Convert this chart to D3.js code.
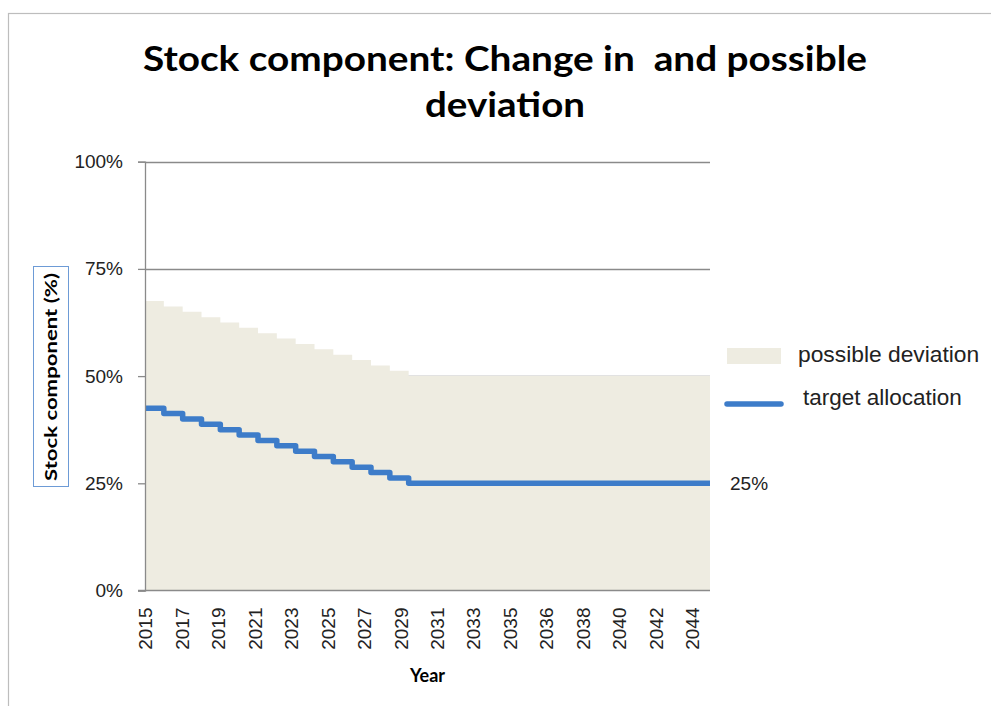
<!DOCTYPE html>
<html>
<head>
<meta charset="utf-8">
<script src="https://cdn.jsdelivr.net/npm/d3@7"></script>
<style>
  html, body { margin: 0; padding: 0; background: #ffffff; }
  svg { display: block; }
  text { white-space: pre; }
</style>
</head>
<body>
<svg id="chart" width="991" height="706"></svg>
<script>
// ---- data ----
const axisCategories = ["2015","2016","2017","2018","2019","2020","2021","2022","2023","2024",
  "2025","2026","2027","2028","2029","2030","2031","2032","2033","2034","2035","2035",
  "2036","2037","2038","2039","2040","2041","2042","2043","2044","2045"];
const dataYears = [2015,2016,2017,2018,2019,2020,2021,2022,2023,2024,2025,2026,2027,2028,2029,
  2030,2031,2032,2033,2034,2035,2036,2037,2038,2039,2040,2041,2042,2043,2044,2045];
const possibleDeviation = [67.5,66.25,65,63.75,62.5,61.25,60,58.75,57.5,56.25,55,53.75,52.5,51.25,50,
  50,50,50,50,50,50,50,50,50,50,50,50,50,50,50,50];
const targetAllocation = [42.5,41.25,40,38.75,37.5,36.25,35,33.75,32.5,31.25,30,28.75,27.5,26.25,25,
  25,25,25,25,25,25,25,25,25,25,25,25,25,25,25,25];
const yTicks = [0, 25, 50, 75, 100];
const titleLines = ["Stock component: Change in  and possible", "deviation"];
const yTitle = "Stock component (%)";
const xTitle = "Year";
const legendLabels = ["possible deviation", "target allocation"];
const endLabel = "25%";

// ---- layout ----
const plot = { left: 145, right: 710, top: 161.7, bottom: 590.5 };
const areaColor = "#EEECE1";
const lineColor = "#3D7CC9";
const gridColor = "#8a8a8a";
const numFont = "'Liberation Sans', Arial, sans-serif";
const boldFont = "Lato, 'Open Sans', sans-serif";

const svg = d3.select("#chart");

// frame
svg.append("rect").attr("x", 8.5).attr("y", 13.5).attr("width", 1100).attr("height", 1000)
  .attr("fill", "none").attr("stroke", "#bdbdbd").attr("stroke-width", 1.2);

const xData = d3.scalePoint().domain(dataYears).range([plot.left, plot.right]);
const xAxisScale = d3.scalePoint().domain(d3.range(axisCategories.length)).range([plot.left, plot.right]);
const y = d3.scaleLinear().domain([0, 100]).range([plot.bottom, plot.top]);

// gridlines
svg.append("g").selectAll("line").data(yTicks.filter(d => d > 0)).join("line")
  .attr("x1", plot.left).attr("x2", plot.right)
  .attr("y1", d => Math.round(y(d)) + 0.5).attr("y2", d => Math.round(y(d)) + 0.5)
  .attr("stroke", gridColor).attr("stroke-width", 1.3);

// area
const area = d3.area()
  .x((d, i) => xData(dataYears[i]))
  .y0(y(0))
  .y1(d => y(d))
  .curve(d3.curveStepAfter);
svg.append("path").datum(possibleDeviation).attr("d", area).attr("fill", areaColor);

// line
const line = d3.line()
  .x((d, i) => xData(dataYears[i]))
  .y(d => y(d))
  .curve(d3.curveStepAfter);
svg.append("path").datum(targetAllocation).attr("d", line)
  .attr("fill", "none").attr("stroke", lineColor).attr("stroke-width", 5.5)
  .attr("stroke-linejoin", "round");

// y axis
const yAxis = d3.axisLeft(y).tickValues(yTicks).tickFormat(d => d + "%").tickSize(7).tickPadding(15);
const yg = svg.append("g").attr("transform", `translate(${plot.left},0)`).call(yAxis);
yg.select(".domain").attr("stroke", gridColor).attr("stroke-width", 1.3);
yg.selectAll(".tick line").attr("stroke", gridColor).attr("stroke-width", 1.3);
yg.selectAll(".tick text").attr("font-family", numFont).attr("font-size", 19).attr("fill", "#222");

// x axis
const xAxis = d3.axisBottom(xAxisScale)
  .tickValues(d3.range(0, axisCategories.length, 2))
  .tickFormat(i => axisCategories[i]).tickSize(0);
const xg = svg.append("g").attr("transform", `translate(0,${plot.bottom})`).call(xAxis);
xg.select(".domain").attr("stroke", gridColor).attr("stroke-width", 1.5)
  .attr("d", `M${plot.left - 7},0H${plot.right}`);
xg.selectAll(".tick text")
  .attr("font-family", numFont).attr("font-size", 19).attr("fill", "#222")
  .attr("text-anchor", "end")
  .attr("transform", "translate(0,17) rotate(-90)")
  .attr("x", 0).attr("y", 0).attr("dy", "0.36em");

// title
svg.append("g").selectAll("text").data(titleLines).join("text")
  .attr("x", 505).attr("y", (d, i) => 71 + i * 46)
  .attr("text-anchor", "middle")
  .attr("font-family", boldFont).attr("font-weight", "bold").attr("font-size", 34)
  .attr("fill", "#000")
  .attr("textLength", (d, i) => i === 0 ? 724 : 160)
  .attr("lengthAdjust", "spacingAndGlyphs")
  .text(d => d);

// y title with box
svg.append("rect").attr("x", 33.5).attr("y", 266.5).attr("width", 35).attr("height", 220)
  .attr("fill", "none").attr("stroke", "#6d9bd6").attr("stroke-width", 1);
svg.append("text")
  .attr("transform", "translate(51,377) rotate(-90)")
  .attr("text-anchor", "middle").attr("dy", "0.36em")
  .attr("font-family", boldFont).attr("font-weight", "bold").attr("font-size", 17)
  .attr("textLength", 208).attr("lengthAdjust", "spacingAndGlyphs")
  .attr("fill", "#000").text(yTitle);

// x title
svg.append("text").attr("x", (plot.left + plot.right) / 2).attr("y", 682)
  .attr("text-anchor", "middle")
  .attr("font-family", boldFont).attr("font-weight", "bold").attr("font-size", 18)
  .attr("fill", "#000").text(xTitle);

// legend
const lg = svg.append("g");
lg.append("rect").attr("x", 727).attr("y", 348).attr("width", 54).attr("height", 16).attr("fill", areaColor);
lg.append("text").attr("x", 798).attr("y", 362).attr("font-family", numFont).attr("font-size", 22.8)
  .attr("fill", "#222").text(legendLabels[0]);
lg.append("line").attr("x1", 727).attr("x2", 781).attr("y1", 404).attr("y2", 404)
  .attr("stroke", lineColor).attr("stroke-width", 5.5).attr("stroke-linecap", "round");
lg.append("text").attr("x", 803).attr("y", 405).attr("font-family", numFont).attr("font-size", 22.5)
  .attr("fill", "#222").text(legendLabels[1]);

// end label
svg.append("text").attr("x", 730).attr("y", y(targetAllocation[targetAllocation.length - 1]))
  .attr("dy", "0.36em").attr("font-family", numFont).attr("font-size", 19)
  .attr("fill", "#222").text(endLabel);
</script>
</body>
</html>
